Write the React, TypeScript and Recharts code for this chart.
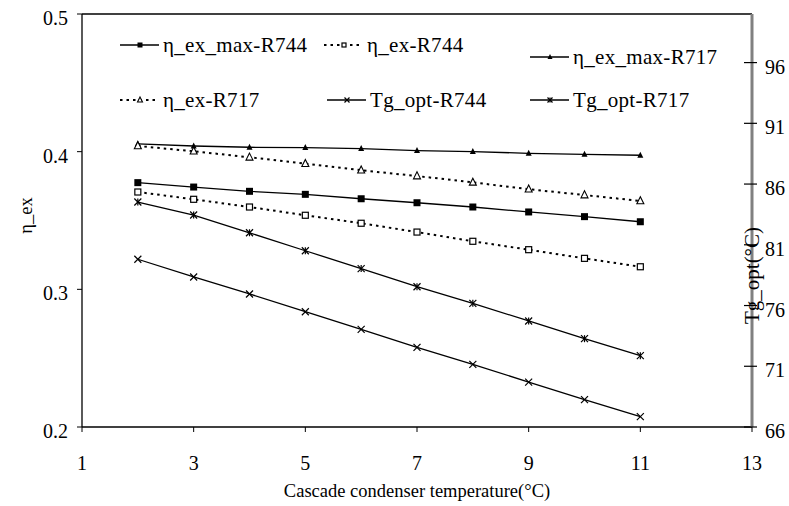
import { LineChart, Line, XAxis, YAxis, ReferenceLine } from 'recharts'

// cascade condenser temperature (°C)
const temps = [2, 3, 4, 5, 6, 7, 8, 9, 10, 11]

// exergy efficiency, left axis
const etaExMaxR744 = [0.3775, 0.3743, 0.3712, 0.369, 0.3658, 0.3629, 0.3598, 0.3562, 0.3528, 0.3491]
const etaExR744 = [0.3707, 0.3654, 0.3598, 0.3538, 0.348, 0.3416, 0.3349, 0.3288, 0.3225, 0.3164]
const etaExMaxR717 = [0.4056, 0.4041, 0.4032, 0.4029, 0.4022, 0.4007, 0.4, 0.3988, 0.3981, 0.3974]
const etaExR717 = [0.4041, 0.4003, 0.3959, 0.3913, 0.3865, 0.3823, 0.3777, 0.3727, 0.3685, 0.3642]

// optimum generator temperature, right axis
const tgOptR744 = [79.81, 78.35, 76.95, 75.49, 74.04, 72.56, 71.16, 69.7, 68.25, 66.85]
const tgOptR717 = [84.52, 83.45, 81.99, 80.51, 79.04, 77.55, 76.18, 74.73, 73.27, 71.87]

const xTicks = [1, 3, 5, 7, 9, 11, 13]
const etaTicks = [0.2, 0.3, 0.4, 0.5]
const tgTicks = [66, 71, 76, 81, 86, 91, 96]

const FONT = 'Liberation Serif, Times New Roman, serif'
const txt = (size: number) => ({ fontSize: size, fontFamily: FONT, fill: '#000' })

const data = temps.map((t, i) => ({
  t,
  etaExMaxR744: etaExMaxR744[i],
  etaExR744: etaExR744[i],
  etaExMaxR717: etaExMaxR717[i],
  etaExR717: etaExR717[i],
  tgOptR744: tgOptR744[i],
  tgOptR717: tgOptR717[i],
}))

type Shape = 'sqFill' | 'sqOpen' | 'triFill' | 'triOpen' | 'cross' | 'star'

const Marker = ({ shape, cx, cy, s }: { shape: Shape; cx: number; cy: number; s: number }) => {
  const h = s / 2
  switch (shape) {
    case 'sqFill':
      return <rect x={cx - h} y={cy - h} width={s} height={s} fill="#000" />
    case 'sqOpen':
      return <rect x={cx - h + 0.5} y={cy - h + 0.5} width={s - 1} height={s - 1} fill="#fff" stroke="#000" strokeWidth={1.2} />
    case 'triFill':
      return <polygon points={`${cx},${cy - s * 0.6} ${cx - h},${cy + s * 0.4} ${cx + h},${cy + s * 0.4}`} fill="#000" />
    case 'triOpen':
      return (
        <polygon
          points={`${cx},${cy - s * 0.6} ${cx - h},${cy + s * 0.4} ${cx + h},${cy + s * 0.4}`}
          fill="#fff"
          stroke="#000"
          strokeWidth={1.1}
        />
      )
    case 'cross':
      return (
        <g stroke="#000" strokeWidth={1.2}>
          <line x1={cx - h} y1={cy - h} x2={cx + h} y2={cy + h} />
          <line x1={cx - h} y1={cy + h} x2={cx + h} y2={cy - h} />
        </g>
      )
    case 'star':
      return (
        <g stroke="#000" strokeWidth={1.2}>
          <line x1={cx - h} y1={cy - h} x2={cx + h} y2={cy + h} />
          <line x1={cx - h} y1={cy + h} x2={cx + h} y2={cy - h} />
          <line x1={cx} y1={cy - h} x2={cx} y2={cy + h} />
        </g>
      )
  }
}

const dotFor = (shape: Shape, s: number) => (p: any) => (
  <Marker key={`${shape}-${p.index}`} shape={shape} cx={p.cx} cy={p.cy} s={s} />
)

const LeftTick = (props: any) => {
  const { x, y, payload } = props
  return (
    <text x={x} y={y + 4} dy="0.355em" textAnchor="end" style={txt(20)}>
      {Number(payload.value).toFixed(1)}
    </text>
  )
}

const BottomTick = (props: any) => {
  const { x, y, payload } = props
  return (
    <text x={x} y={y} dy="0.71em" textAnchor="middle" style={txt(20)}>
      {payload.value}
    </text>
  )
}

const RightTick = (props: any) => {
  const { x, y, payload } = props
  return (
    <g>
      <line x1={x - 8} x2={x + 5} y1={y} y2={y} stroke="#000" strokeWidth={1.2} />
      <text x={x + 13} y={y + 4} dy="0.355em" style={txt(20)}>
        {payload.value}
      </text>
    </g>
  )
}

const DOTTED = '2.5 4'

const legendItems: { label: string; shape: Shape; dashed: boolean; x: number; y: number }[] = [
  { label: 'η_ex_max-R744', shape: 'sqFill', dashed: false, x: 120, y: 45 },
  { label: 'η_ex-R744', shape: 'sqOpen', dashed: true, x: 324, y: 45 },
  { label: 'η_ex_max-R717', shape: 'triFill', dashed: false, x: 530, y: 57 },
  { label: 'η_ex-R717', shape: 'triOpen', dashed: true, x: 120, y: 100 },
  { label: 'Tg_opt-R744', shape: 'cross', dashed: false, x: 327, y: 100 },
  { label: 'Tg_opt-R717', shape: 'star', dashed: false, x: 530, y: 100 },
]

const ChartLegend = () => (
  <svg width={789} height={506} style={{ position: 'absolute', left: 0, top: 0, pointerEvents: 'none' }}>
    {legendItems.map((it) => (
      <g key={it.label}>
        <line
          x1={it.x}
          x2={it.x + 39}
          y1={it.y}
          y2={it.y}
          stroke="#000"
          strokeWidth={it.dashed ? 2 : 1.3}
          strokeDasharray={it.dashed ? DOTTED : undefined}
        />
        <Marker shape={it.shape} cx={it.x + 20} cy={it.y} s={5} />
        <text x={it.x + 43} y={it.y} dy="0.355em" style={{ ...txt(21), letterSpacing: 0.3 }}>
          {it.label}
        </text>
      </g>
    ))}
  </svg>
)

export default function App() {
  return (
    <div style={{ position: 'absolute', left: 0, top: 0, width: 789, height: 506, background: '#fff' }}>
      <LineChart width={789} height={506} data={data} margin={{ top: 14, right: 0, bottom: 0, left: 0 }}>
        <XAxis
          dataKey="t"
          type="number"
          domain={[1, 13]}
          ticks={xTicks}
          height={79}
          tickSize={5}
          tickMargin={24}
          axisLine={{ stroke: '#000', strokeWidth: 1.3 }}
          tickLine={{ stroke: '#000' }}
          tick={<BottomTick />}
          label={{
            value: 'Cascade condenser temperature(°C)',
            position: 'insideBottom',
            offset: 9,
            style: txt(18.5),
          }}
        />
        <YAxis
          yAxisId="left"
          type="number"
          domain={[0.2, 0.5]}
          ticks={etaTicks}
          width={82}
          tickSize={5}
          tickMargin={9}
          axisLine={{ stroke: '#000', strokeWidth: 1.3 }}
          tickLine={{ stroke: '#000' }}
          tick={<LeftTick />}
          label={{
            value: 'η_ex',
            angle: -90,
            position: 'center',
            dx: -16,
            dy: -5,
            style: txt(18.5),
          }}
        />
        <YAxis
          yAxisId="right"
          orientation="right"
          type="number"
          domain={[66, 100]}
          ticks={tgTicks}
          width={37}
          tickSize={0}
          tickMargin={0}
          tickLine={false}
          axisLine={{ stroke: '#808080', strokeWidth: 3 }}
          tick={<RightTick />}
          label={{
            value: 'Tg_opt(°C)',
            angle: -90,
            position: 'center',
            dx: -19,
            dy: 55,
            style: txt(21),
          }}
        />
        <ReferenceLine yAxisId="left" y={0.5} stroke="#000" strokeWidth={1.3} ifOverflow="extendDomain" />

        <Line
          yAxisId="left"
          dataKey="etaExMaxR744"
          stroke="#000"
          strokeWidth={1.3}
          dot={dotFor('sqFill', 7)}
          isAnimationActive={false}
        />
        <Line
          yAxisId="left"
          dataKey="etaExR744"
          stroke="#000"
          strokeWidth={2}
          strokeDasharray={DOTTED}
          dot={dotFor('sqOpen', 7)}
          isAnimationActive={false}
        />
        <Line
          yAxisId="left"
          dataKey="etaExMaxR717"
          stroke="#000"
          strokeWidth={1.3}
          dot={dotFor('triFill', 6)}
          isAnimationActive={false}
        />
        <Line
          yAxisId="left"
          dataKey="etaExR717"
          stroke="#000"
          strokeWidth={2}
          strokeDasharray={DOTTED}
          dot={dotFor('triOpen', 7)}
          isAnimationActive={false}
        />
        <Line
          yAxisId="right"
          dataKey="tgOptR744"
          stroke="#000"
          strokeWidth={1.3}
          dot={dotFor('cross', 7)}
          isAnimationActive={false}
        />
        <Line
          yAxisId="right"
          dataKey="tgOptR717"
          stroke="#000"
          strokeWidth={1.3}
          dot={dotFor('star', 7)}
          isAnimationActive={false}
        />
      </LineChart>
      <ChartLegend />
    </div>
  )
}
